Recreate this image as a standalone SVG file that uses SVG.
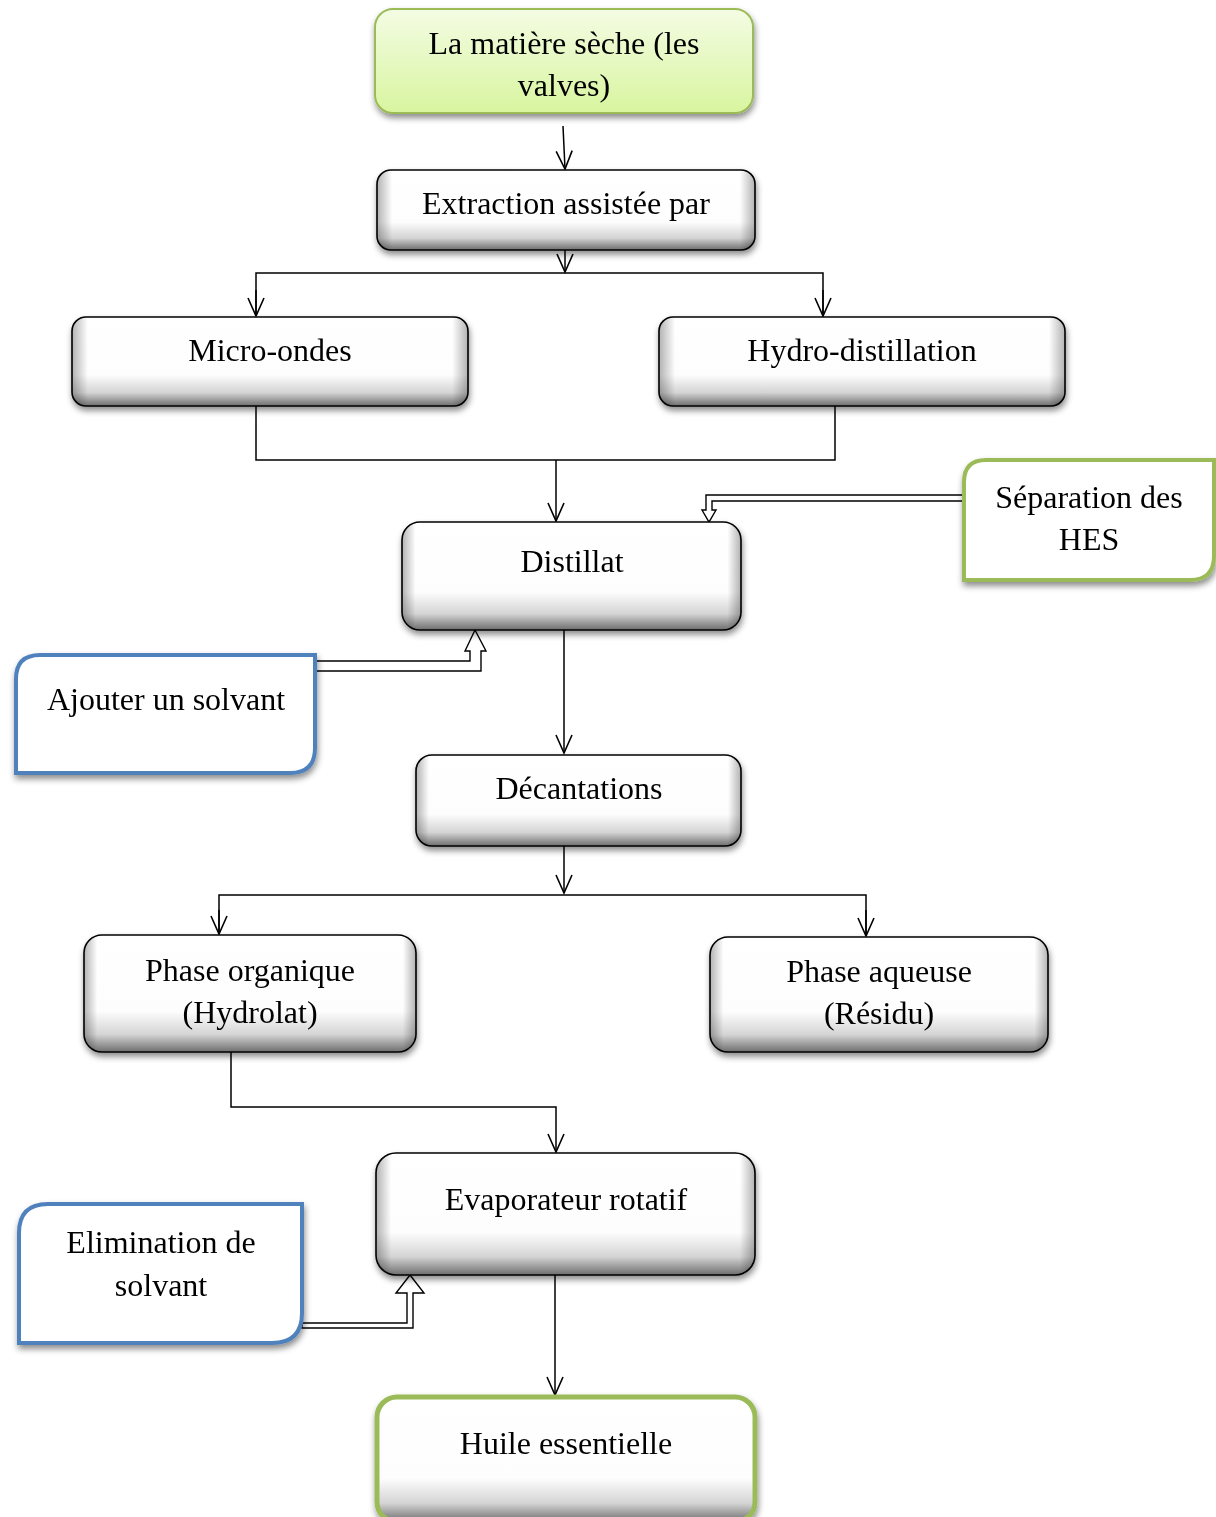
<svg xmlns="http://www.w3.org/2000/svg" width="1216" height="1517" viewBox="0 0 1216 1517">
<defs>
<style>
text{font-family:"Liberation Serif","Times New Roman",serif;font-size:32px;fill:#000;text-anchor:middle}
.gel{fill:url(#gel);stroke:#000;stroke-width:1.6}
.line{fill:none;stroke:#000;stroke-width:1.5}
.dbl{fill:#fff;stroke:#000;stroke-width:1.4}
.blue{fill:#fff;stroke:#4F81BD;stroke-width:4}
.green{fill:#fff;stroke:#9BBB59;stroke-width:4}
</style>
<linearGradient id="gel" x1="0" y1="0" x2="0" y2="1">
<stop offset="0" stop-color="#fff"/>
<stop offset="0.65" stop-color="#fdfdfd"/>
<stop offset="0.85" stop-color="#d4d4d4"/>
<stop offset="1" stop-color="#6e6e6e"/>
</linearGradient>
<linearGradient id="gelh" x1="0" y1="0" x2="1" y2="0">
<stop offset="0" stop-color="#000" stop-opacity="0.3"/>
<stop offset="0.04" stop-color="#000" stop-opacity="0"/>
<stop offset="0.96" stop-color="#000" stop-opacity="0"/>
<stop offset="1" stop-color="#000" stop-opacity="0.3"/>
</linearGradient>
<linearGradient id="lime" x1="0" y1="0" x2="0" y2="1">
<stop offset="0" stop-color="#f4fce4"/>
<stop offset="1" stop-color="#d8f59f"/>
</linearGradient>
<filter id="sh" x="-10%" y="-10%" width="120%" height="130%">
<feDropShadow dx="1" dy="4" stdDeviation="3" flood-color="#000" flood-opacity="0.45"/>
</filter>
<marker id="ar" markerUnits="userSpaceOnUse" markerWidth="22" markerHeight="22" viewBox="0 0 22 22" refX="20" refY="11" orient="auto">
<path d="M2,3 L20,11 L2,19" fill="none" stroke="#000" stroke-width="1.6"/>
</marker>
</defs>

<g id="connectors">
<line class="line" x1="563" y1="126" x2="565" y2="169" marker-end="url(#ar)"/>
<line class="line" x1="565" y1="250" x2="565" y2="272" marker-end="url(#ar)"/>
<polyline class="line" points="256,316 256,273 823,273 823,316"/>
<line class="line" x1="256" y1="290" x2="256" y2="316" marker-end="url(#ar)"/>
<line class="line" x1="823" y1="290" x2="823" y2="316" marker-end="url(#ar)"/>
<polyline class="line" points="256,406 256,460 835,460 835,406"/>
<line class="line" x1="556" y1="460" x2="556" y2="521" marker-end="url(#ar)"/>
<polygon class="dbl" points="964,495 706,495 706,510 702,510 709,522 716,510 712,510 712,501 964,501"/>
<polygon class="dbl" points="315,661 470,661 470,651 465,651 475,630 486,651 481,651 481,671 315,671"/>
<line class="line" x1="564" y1="630" x2="564" y2="753" marker-end="url(#ar)"/>
<line class="line" x1="564" y1="846" x2="564" y2="893" marker-end="url(#ar)"/>
<polyline class="line" points="219,934 219,895 866,895 866,935"/>
<line class="line" x1="219" y1="910" x2="219" y2="934" marker-end="url(#ar)"/>
<line class="line" x1="866" y1="910" x2="866" y2="936" marker-end="url(#ar)"/>
<polyline class="line" points="231,1052 231,1107 556,1107 556,1152" marker-end="url(#ar)"/>
<polygon class="dbl" points="302,1323 407,1323 407,1293 396,1293 410,1275 424,1293 413,1293 413,1328 302,1328"/>
<line class="line" x1="555" y1="1275" x2="555" y2="1395" marker-end="url(#ar)"/>
</g>

<g id="n-matiere" filter="url(#sh)">
<rect x="375" y="9" width="378" height="104" rx="18" fill="url(#lime)" stroke="#9BBB59" stroke-width="2"/>
<text x="564" y="54">La matière sèche (les</text>
<text x="564" y="96">valves)</text>
</g>

<g id="n-extraction" filter="url(#sh)">
<rect class="gel" x="377" y="170" width="378" height="80" rx="14"/>
<rect x="377" y="170" width="378" height="80" rx="14" fill="url(#gelh)"/>
<text x="566" y="214">Extraction assistée par</text>
</g>

<g id="n-micro" filter="url(#sh)">
<rect class="gel" x="72" y="317" width="396" height="89" rx="14"/>
<rect x="72" y="317" width="396" height="89" rx="14" fill="url(#gelh)"/>
<text x="270" y="361">Micro-ondes</text>
</g>

<g id="n-hydro" filter="url(#sh)">
<rect class="gel" x="659" y="317" width="406" height="89" rx="14"/>
<rect x="659" y="317" width="406" height="89" rx="14" fill="url(#gelh)"/>
<text x="862" y="361">Hydro-distillation</text>
</g>

<g id="n-separation" filter="url(#sh)">
<path class="green" d="M986,460 H1214 V556 Q1214,580 1190,580 H964 V482 Q964,460 986,460 Z"/>
<text x="1089" y="508">Séparation des</text>
<text x="1089" y="550">HES</text>
</g>

<g id="n-distillat" filter="url(#sh)">
<rect class="gel" x="402" y="522" width="339" height="108" rx="18"/>
<rect x="402" y="522" width="339" height="108" rx="18" fill="url(#gelh)"/>
<text x="572" y="572">Distillat</text>
</g>

<g id="n-ajouter" filter="url(#sh)">
<path class="blue" d="M40,655 H315 V748 Q315,773 290,773 H16 V679 Q16,655 40,655 Z"/>
<text x="166" y="710">Ajouter un solvant</text>
</g>

<g id="n-decantations" filter="url(#sh)">
<rect class="gel" x="416" y="755" width="325" height="91" rx="16"/>
<rect x="416" y="755" width="325" height="91" rx="16" fill="url(#gelh)"/>
<text x="579" y="799">Décantations</text>
</g>

<g id="n-organique" filter="url(#sh)">
<rect class="gel" x="84" y="935" width="332" height="117" rx="18"/>
<rect x="84" y="935" width="332" height="117" rx="18" fill="url(#gelh)"/>
<text x="250" y="981">Phase organique</text>
<text x="250" y="1023">(Hydrolat)</text>
</g>

<g id="n-aqueuse" filter="url(#sh)">
<rect class="gel" x="710" y="937" width="338" height="115" rx="18"/>
<rect x="710" y="937" width="338" height="115" rx="18" fill="url(#gelh)"/>
<text x="879" y="982">Phase aqueuse</text>
<text x="879" y="1024">(Résidu)</text>
</g>

<g id="n-evaporateur" filter="url(#sh)">
<rect class="gel" x="376" y="1153" width="379" height="122" rx="20"/>
<rect x="376" y="1153" width="379" height="122" rx="20" fill="url(#gelh)"/>
<text x="566" y="1210">Evaporateur rotatif</text>
</g>

<g id="n-elimination" filter="url(#sh)">
<path class="blue" d="M48,1204 H302 V1313 Q302,1343 272,1343 H19 V1233 Q19,1204 48,1204 Z"/>
<text x="161" y="1253">Elimination de</text>
<text x="161" y="1296">solvant</text>
</g>

<g id="n-huile" filter="url(#sh)">
<rect x="377" y="1397" width="378" height="125" rx="20" fill="url(#gel)" stroke="#9BBB59" stroke-width="5"/>
<text x="566" y="1454">Huile essentielle</text>
</g>
</svg>
